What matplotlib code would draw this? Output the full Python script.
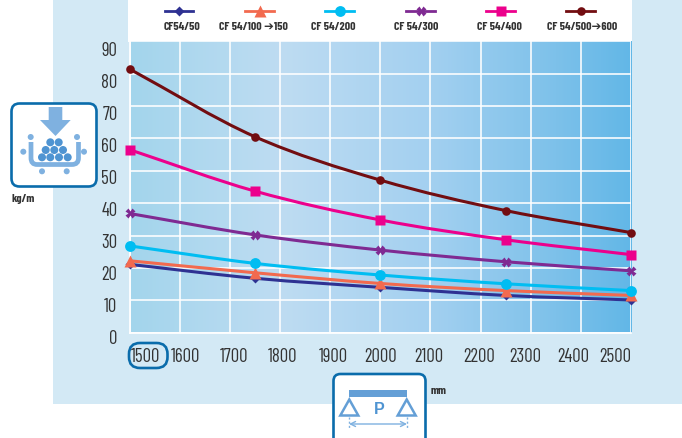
import logging
import numpy as np
import matplotlib
matplotlib.use("Agg")
import matplotlib.pyplot as plt
from matplotlib.colors import LinearSegmentedColormap
from matplotlib.patches import FancyBboxPatch, Rectangle, Circle, Polygon, PathPatch
from matplotlib.path import Path
from matplotlib.transforms import ScaledTranslation
from matplotlib.lines import Line2D

logging.getLogger('matplotlib.font_manager').setLevel(logging.ERROR)
NARROW = ['Barlow Condensed', 'Roboto', 'DejaVu Sans']
plt.rcParams['font.family'] = NARROW

spans = [1500, 1750, 2000, 2250, 2500]
series_names = ['CF54/50', 'CF 54/100 ➔150', 'CF 54/200', 'CF 54/300', 'CF 54/400', 'CF 54/500➔600']
cf50 = [21.1, 16.8, 14.0, 11.5, 10.1]
cf100 = [22.2, 18.5, 15.2, 13.0, 11.5]
cf200 = [26.8, 21.4, 17.8, 15.1, 13.0]
cf300 = [36.8, 30.2, 25.5, 21.9, 19.1]
cf400 = [56.5, 43.7, 34.8, 28.7, 24.1]
cf500 = [81.4, 60.5, 47.1, 37.7, 30.9]
all_series = [cf50, cf100, cf200, cf300, cf400, cf500]
colors = ['#2e3192', '#f26a4f', '#00bdf2', '#7f2a92', '#ec008c', '#720d11']
markers = ['D', '^', 'o', 'X', 's', 'o']
msizes = [5.3, 8, 7.8, 7, 7.4, 6.2]
x_ticks = list(range(1500, 2501, 100))
y_ticks = list(range(0, 91, 10))

W, H = 682, 438
fig = plt.figure(figsize=(W / 100, H / 100), dpi=100, facecolor='white')

bg = fig.add_axes([0, 0, 1, 1], zorder=0)
bg.set_xlim(0, W); bg.set_ylim(H, 0); bg.axis('off')
PANEL = '#d3e9f5'
BLUE = '#0a6cab'
ICON = '#7fb1e0'
ICON2 = '#4f94d2'
DARK = '#333333'
bg.add_patch(Rectangle((53, 0), W - 53, 404, fc=PANEL, ec='none'))
bg.add_patch(Rectangle((128, 0), 504, 42, fc='white', ec='none'))

# left icon
bg.add_patch(FancyBboxPatch((11.5, 103.5), 85, 83, boxstyle='round,pad=0,rounding_size=8', fc='white', ec=BLUE, lw=1.9))
bg.add_patch(Polygon([(48.7, 107), (62.3, 107), (62.3, 120), (70.7, 120), (55.5, 136), (40, 120), (48.7, 120)], fc=ICON, ec='none'))
for cx, cy, r in [(30.7, 137, 3), (77, 137, 3), (23.3, 151.7, 3), (84, 151.7, 3), (42, 171.3, 3), (66.7, 171.3, 3)]:
    bg.add_patch(Circle((cx, cy), r, fc=ICON, ec='none'))
bg.add_patch(PathPatch(Path([(31, 142), (31, 158), (31, 164.5), (37, 164.5), (72, 164.5), (78.5, 164.5), (78.5, 158), (78.5, 142)],
                            [Path.MOVETO, Path.LINETO, Path.CURVE3, Path.CURVE3, Path.LINETO, Path.CURVE3, Path.CURVE3, Path.LINETO]),
                       fc='none', ec=ICON, lw=3.4))
for cx, cy in [(50.3, 142.3), (58.7, 142.3), (45.7, 150), (54.3, 150), (63, 150), (42, 157.3), (50.3, 157.3), (59, 157.3), (67.7, 157.3)]:
    bg.add_patch(Circle((cx, cy), 4, fc=ICON2, ec='none'))
bg.text(23.5, 198.5, 'kg/m', ha='center', va='center', fontsize=8.5, fontweight='bold', color=DARK)

# bottom icon
bg.add_patch(FancyBboxPatch((333.5, 374), 92, 80, boxstyle='round,pad=0,rounding_size=7', fc='white', ec=BLUE, lw=1.9))
bg.add_patch(Rectangle((349, 389.7), 57.7, 7, fc='#649fd6', ec='none'))
for cx in (349.3, 406.7):
    bg.add_patch(Polygon([(cx, 399.5), (cx + 9, 415.5), (cx - 9, 415.5)], fc='white', ec='#649fd6', lw=1.8))
    bg.add_line(Line2D([cx, cx], [417, 428], color=ICON, lw=1, ls=(0, (1.5, 1.5))))
bg.annotate('', xy=(349, 424), xytext=(407, 424),
            arrowprops=dict(arrowstyle='<->', color=ICON, lw=1, mutation_scale=9, shrinkA=0, shrinkB=0))
bg.text(379.3, 410, 'P', ha='center', va='center', fontsize=11.5, fontweight='bold', color=ICON2,
        family=['Liberation Sans', 'DejaVu Sans'])
bg.text(439, 390.5, 'mm', ha='center', va='center', fontsize=8.5, fontweight='bold', color=DARK)

# circled 1500
bg.add_patch(FancyBboxPatch((129, 343), 38.5, 25, boxstyle='round,pad=0,rounding_size=11', fc='none', ec=BLUE, lw=1.9))

# legend
line_x = [(165, 193), (245, 274), (325, 354), (406, 435), (486, 515), (566, 595)]
text_x = [181.7, 253.3, 333.7, 416.3, 499, 581.7]
for name, c, m, ms, (x0, x1), tx in zip(series_names, colors, markers, msizes, line_x, text_x):
    bg.add_line(Line2D([x0, x1], [11, 11], color=c, lw=2))
    bg.add_line(Line2D([(x0 + x1) / 2], [11], color=c, marker=m, ms=ms, mec='none', ls='none'))
    bg.text(tx, 27, name, ha='center', va='center', fontsize=8.5, fontweight='bold', color=DARK)

# main plot
L, R, T, B = 129.5, 631, 41.1, 332.7
ax = fig.add_axes([L / W, 1 - B / H, (R - L) / W, (B - T) / H], zorder=2)
ax.patch.set_alpha(0)
ax.set_xlim(x_ticks[0], x_ticks[-1])
ax.set_ylim(y_ticks[0], y_ticks[-1])
cmap = LinearSegmentedColormap.from_list('bg', [(0, '#a3d5ec'), (0.3, '#bedcf2'), (0.6, '#a3d0f0'), (0.85, '#7dc1ea'), (1, '#62b7e7')])
ax.imshow(np.linspace(0, 1, 256)[None, :], cmap=cmap, extent=[x_ticks[0], x_ticks[-1], y_ticks[0], y_ticks[-1]],
          aspect='auto', zorder=0)
ax.grid(True, color='white', lw=1.15, zorder=1)
ax.set_axisbelow(False)
for s in ax.spines.values():
    s.set_visible(False)
for s in ('left', 'bottom'):
    ax.spines[s].set_visible(True)
    ax.spines[s].set_color('white')
    ax.spines[s].set_linewidth(1.3)

ax.set_xticks(x_ticks)
ax.set_xticklabels([str(v) for v in x_ticks])
ax.set_yticks(y_ticks)
ax.set_yticklabels([str(v) for v in y_ticks])
ax.tick_params(length=0, labelsize=13.5, labelcolor=DARK, pad=0)
x_offsets_px = [16.2, 6.3, 4.5, 2.3, 2.9, 0.4, -1.7, -1.2, -5.7, -8.1, -15.3]
for lab, dx in zip(ax.get_xticklabels(), x_offsets_px):
    lab.set_transform(lab.get_transform() + ScaledTranslation(dx / 100, -15 / 100, fig.dpi_scale_trans))
for i, lab in enumerate(ax.get_yticklabels()):
    dy = 4.3 + 0.43 * i
    lab.set_transform(lab.get_transform() + ScaledTranslation(-12 / 100, -dy / 100, fig.dpi_scale_trans))


def smooth_path(xs, ys):
    """Bezier through the read points, with tangents from the neighbouring points."""
    xs, ys = np.asarray(xs, float), np.asarray(ys, float)
    tx, ty = np.gradient(xs), np.gradient(ys)
    verts = [(xs[0], ys[0])]
    codes = [Path.MOVETO]
    for i in range(len(xs) - 1):
        verts += [(xs[i] + tx[i] / 3, ys[i] + ty[i] / 3),
                  (xs[i + 1] - tx[i + 1] / 3, ys[i + 1] - ty[i + 1] / 3),
                  (xs[i + 1], ys[i + 1])]
        codes += [Path.CURVE4] * 3
    return Path(verts, codes)


for k, (vals, c, m, ms) in enumerate(zip(all_series, colors, markers, msizes)):
    ax.add_patch(PathPatch(smooth_path(spans, vals), fc='none', ec=c, lw=2.2, zorder=3 + k, clip_on=False))
    ax.plot(spans, vals, ls='none', marker=m, ms=ms, color=c, mec='none', clip_on=False, zorder=3 + k)

fig.savefig('out.png', dpi=100)
